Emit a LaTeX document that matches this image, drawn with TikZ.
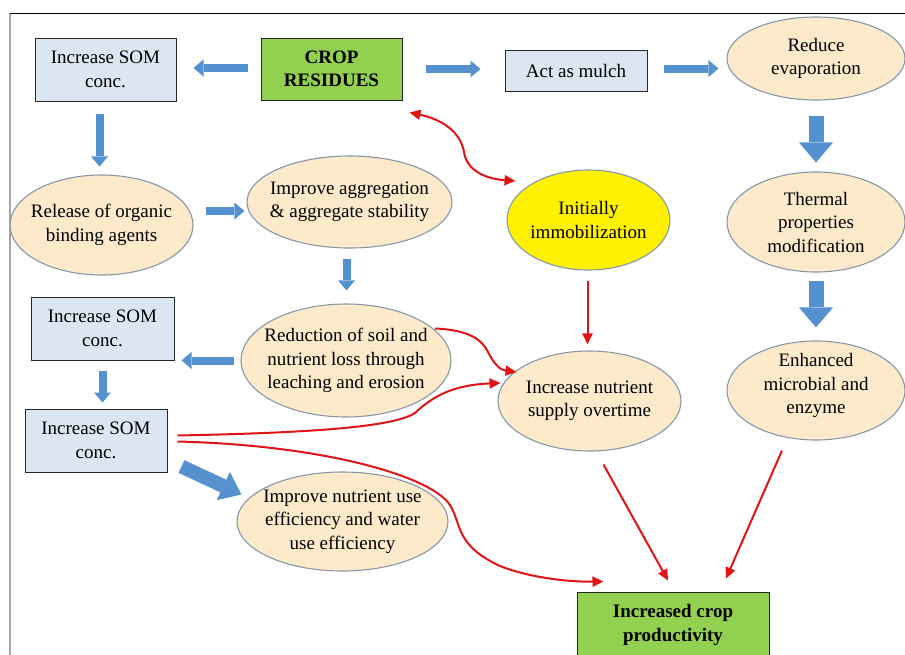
\documentclass[tikz,border=0pt]{standalone}
\usepackage{fontspec}
\setmainfont{Liberation Serif}
\usetikzlibrary{shapes.geometric,arrows.meta,calc}
\definecolor{boxblue}{HTML}{DCE6F2}
\definecolor{boxgreen}{HTML}{92D050}
\definecolor{ovalfill}{HTML}{FCEACA}
\definecolor{ovalline}{HTML}{8797A8}
\definecolor{arrblue}{HTML}{5591CF}
\definecolor{arrred}{HTML}{E01414}
\begin{document}
\begin{tikzpicture}[x=1pt,y=-1pt,
  every node/.style={font=\fontsize{19}{23.5}\selectfont, align=center, inner sep=0pt},
  sbox/.style={rectangle, draw=black!85, line width=1pt, fill=boxblue},
  gbox/.style={rectangle, draw=black!85, line width=1pt, fill=boxgreen, font=\fontsize{19}{23.5}\selectfont\bfseries},
  oval/.style={ellipse, draw=ovalline, line width=1.1pt, fill=ovalfill},
  barrow/.style={draw=arrblue, line width=8pt, -{Triangle[length=10pt,width=17pt,line width=0pt 0]}},
  bigarrow/.style={draw=arrblue, line width=15pt, -{Triangle[length=20pt,width=34pt,line width=0pt 0]}},
  rtip/.style={Triangle[length=11pt,width=10pt]},
  rarrow/.style={draw=arrred, line width=2pt, -{Triangle[length=11pt,width=10pt]}},
]
\useasboundingbox (0,0) rectangle (905,654);
\fill[white] (0,0) rectangle (905,654);
\draw[gray!70, line width=1.2pt] (10,660) -- (10,13);
\draw[black, line width=1pt] (10,13) -- (910,13);

% nodes
\node[sbox, minimum width=141pt, minimum height=63pt] (som1) at (105.5,69.5) {Increase SOM\\conc.};
\node[gbox, minimum width=141pt, minimum height=62pt] (crop) at (331.5,69) {CROP\\RESIDUES};
\node[sbox, minimum width=142pt, minimum height=41pt] (mulch) at (576,70.5) {Act as mulch};
\node[oval, minimum width=178pt, minimum height=83pt, label=center:{Reduce\\evaporation}] (evap) at (816,58.5) {};
\node[oval, minimum width=183pt, minimum height=100pt, label=center:{Release of organic\\binding agents}] (release) at (101.5,225) {};
\node[oval, minimum width=205pt, minimum height=92pt, label=center:{Improve aggregation\\\& aggregate stability}] (aggr) at (349.5,202) {};
\node[ellipse, draw=ovalline, line width=1.1pt, fill=yellow, minimum width=163pt, minimum height=100pt, label=center:{Initially\\immobilization}] (immob) at (588.5,220) {};
\node[oval, minimum width=178pt, minimum height=100pt, label=center:{Thermal\\properties\\modification}] (thermal) at (816,222) {};
\node[sbox, minimum width=143pt, minimum height=63pt] (som2) at (102.5,328.5) {Increase SOM\\conc.};
\node[oval, minimum width=210pt, minimum height=113pt, label=center:{Reduction of soil and\\nutrient loss through\\leaching and erosion}] (reduc) at (346,360.5) {};
\node[sbox, minimum width=142pt, minimum height=63pt] (som3) at (96,440.5) {Increase SOM\\conc.};
\node[oval, minimum width=211pt, minimum height=99pt, label=center:{Improve nutrient use\\efficiency and water\\use efficiency}] (nue) at (342.5,521.5) {};
\node[oval, minimum width=183pt, minimum height=100pt, label=center:{Increase nutrient\\supply overtime}] (supply) at (589.5,401) {};
\node[oval, minimum width=178pt, minimum height=99pt, label={[yshift=5pt]center:{Enhanced\\microbial and\\enzyme}}] (enz) at (816,390.5) {};
\node[gbox, minimum width=192pt, minimum height=66pt] (prod) at (673,625) {Increased crop\\productivity};

% blue arrows
\draw[barrow] ($(crop.west)+(-13,-1)$) -- ($(som1.east |- crop.west)+(17,-1)$);
\draw[barrow] ($(crop.east)+(23,0)$) -- ($(mulch.west |- crop.east)+(-24,0)$);
\draw[barrow] ($(mulch.east)+(16,-2)$) -- ($(evap.west |- mulch.east)+(-8,-2)$);
\draw[barrow] ($(som1.south)+(-6,12)$) -- ($(som1.south |- release.north)+(-6,-8)$);
\draw[barrow] ($(release.east)+(12,-14)$) -- ($(aggr.west |- release.east)+(-2,-14)$);
\draw[bigarrow] ($(evap.south)+(0,15)$) -- ($(thermal.north)+(0,-9)$);
\draw[barrow] ($(aggr.south)+(-3,10)$) -- ($(aggr.south |- reduc.north)+(-3,-13)$);
\draw[bigarrow] ($(thermal.south)+(0,8)$) -- ($(enz.north)+(0,-13)$);
\draw[barrow] ($(reduc.west)+(-6,0)$) -- ($(som2.east |- reduc.west)+(7,0)$);
\draw[barrow] ($(som2.south)+(0,10)$) -- ($(som2.south |- som3.north)+(0,-6)$);
\draw[draw=arrblue, line width=14pt, -{Triangle[length=20pt,width=31pt,line width=0pt 0]}] ($(som3.south east)+(14,-6)$) -- ($(nue.west)+(5,-27)$);

% red arrows
\draw[arrred, line width=2pt, {Triangle[length=11pt,width=10pt]}-{Triangle[length=11pt,width=10pt]}]
  ($(crop.south east)+(7,12)$) .. controls (445,120) and (461,134) .. (464,152)
  .. controls (467,172) and (488,179) .. ($(immob.center)+(-73,-39)$);
\draw[rarrow] ($(immob.south)+(-1,10)$) -- ($(immob.south |- supply.north)+(-1,-6)$);
\draw[rarrow] ($(reduc.center)+(89,-32)$) .. controls (470,330) and (482,340) .. (488,352)
  .. controls (494,364) and (500,370) .. ($(supply.center)+(-73,-29)$);
\draw[rarrow] ($(som3.east)+(10,-5)$) .. controls (300,433) and (392,428) .. (415,413)
  .. controls (432,397) and (452,385) .. ($(supply.center)+(-89,-18)$);
\draw[rarrow] ($(som3.east)+(10,1)$) .. controls (320,445) and (430,475) .. (450,505)
  .. controls (462,525) and (455,545) .. (500,566)
  .. controls (530,578) and (570,582) .. ($(prod.north west)+(27,-10)$);
\draw[rarrow] ($(supply.south)+(14,13)$) -- ($(prod.north)+(-5,-11)$);
\draw[rarrow] ($(enz.south)+(-34,10)$) -- ($(prod.north)+(53,-13)$);
\end{tikzpicture}
\end{document}
